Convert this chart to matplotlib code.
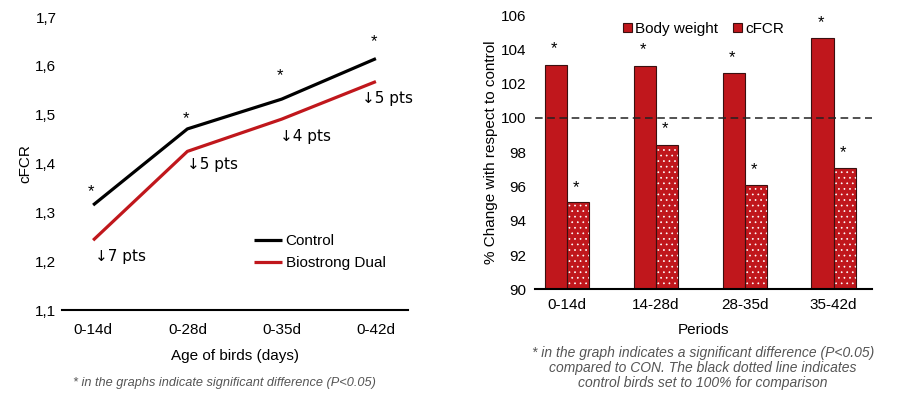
import matplotlib
matplotlib.use('Agg')
import matplotlib.pyplot as plt
from matplotlib.patches import Patch
import numpy as np

plt.rcParams['font.family'] = ['Liberation Sans', 'DejaVu Sans']
plt.rcParams['hatch.linewidth'] = 0.5

# left chart: cumulative FCR
ages = ['0-14d', '0-28d', '0-35d', '0-42d']
control = [1.315, 1.471, 1.532, 1.615]
biostrong = [1.243, 1.425, 1.491, 1.568]
star_left = [1.343, 1.492, 1.581, 1.649]
pts_labels = ['\u21937 pts', '\u21935 pts', '\u21934 pts', '\u21935 pts']
pts_y = [1.210, 1.398, 1.456, 1.533]
pts_x = [0.02, 0.0, -0.02, -0.15]

# right chart: % change vs control
periods = ['0-14d', '14-28d', '28-35d', '35-42d']
body_weight = [103.08, 103.05, 102.6, 104.64]
cfcr = [95.08, 98.44, 96.09, 97.08]
star_bw = [104.05, 104.0, 103.5, 105.55]
star_cfcr = [95.95, 99.35, 97.0, 98.0]

RED = '#c0171c'
EDGE = '#3a1010'
GREY = '#555555'

fig = plt.figure(figsize=(9, 3.98), dpi=100)

# ---- left panel
ax1 = fig.add_axes([0.0689, 0.221, 0.3844, 0.736])
x = np.arange(len(ages))
ax1.plot(x, control, color='black', lw=2.3, label='Control', solid_capstyle='butt')
ax1.plot(x, biostrong, color=RED, lw=2.3, label='Biostrong Dual', solid_capstyle='butt')
for i in range(len(ages)):
    ax1.text(x[i] - 0.02, star_left[i], '*', ha='center', va='center', fontsize=12)
    ax1.text(x[i] + pts_x[i], pts_y[i], pts_labels[i], ha='left', va='center', fontsize=11,
             family=['DejaVu Sans'])
ax1.set_xlim(-0.33, 3.34)
ax1.set_ylim(1.1, 1.7)
ax1.set_yticks([1.1, 1.2, 1.3, 1.4, 1.5, 1.6, 1.7])
ax1.set_yticklabels(['1,1', '1,2', '1,3', '1,4', '1,5', '1,6', '1,7'])
ax1.set_xticks(x)
ax1.set_xticklabels(ages)
ax1.tick_params(axis='x', length=0, labelsize=11, pad=9)
ax1.tick_params(axis='y', length=0, labelsize=11, pad=4)
for s in ['top', 'right', 'left']:
    ax1.spines[s].set_visible(False)
ax1.spines['bottom'].set_linewidth(1.5)
ax1.set_ylabel('cFCR', fontsize=11, labelpad=2)
ax1.set_xlabel('Age of birds (days)', fontsize=11, labelpad=9)
ax1.legend(loc='lower right', bbox_to_anchor=(0.975, 0.09), frameon=False, fontsize=11,
           handlelength=1.85, handletextpad=0.25, labelspacing=0.5)
fig.text(0.249, 0.038, '* in the graphs indicate significant difference (P<0.05)',
         ha='center', va='center', fontsize=9.2, style='italic', color=GREY)

# ---- right panel
ax2 = fig.add_axes([0.5944, 0.273, 0.3744, 0.689])
xp = np.arange(len(periods))
w = 0.25
ax2.bar(xp - w / 2, np.array(body_weight) - 90, w, bottom=90, color=RED,
        edgecolor=EDGE, linewidth=0.8)
ax2.bar(xp + w / 2, np.array(cfcr) - 90, w, bottom=90, color=RED,
        edgecolor='white', linewidth=0, hatch='...')
ax2.bar(xp + w / 2, np.array(cfcr) - 90, w, bottom=90, fill=False,
        edgecolor=EDGE, linewidth=0.8)
for i in range(len(periods)):
    ax2.text(xp[i] - w / 2 - 0.02, star_bw[i], '*', ha='center', va='center', fontsize=12)
    ax2.text(xp[i] + w / 2 - 0.02, star_cfcr[i], '*', ha='center', va='center', fontsize=12)
ax2.axhline(100, color='#222222', lw=1.1, ls=(0, (5, 3)))
ax2.set_xlim(-0.36, 3.43)
ax2.set_ylim(90, 106)
ax2.set_yticks(range(90, 107, 2))
ax2.set_xticks(xp)
ax2.set_xticklabels(periods)
ax2.tick_params(length=0, labelsize=11, pad=6)
for s in ['top', 'right', 'left']:
    ax2.spines[s].set_visible(False)
ax2.spines['bottom'].set_linewidth(1.5)
ax2.set_ylabel('% Change with respect to control', fontsize=11, labelpad=2)
ax2.set_xlabel('Periods', fontsize=11, labelpad=8)

handles = [Patch(facecolor=RED, edgecolor=EDGE, linewidth=0.8),
           Patch(facecolor=RED, edgecolor=EDGE, linewidth=0.8)]
ax2.legend(handles, ['Body weight', 'cFCR'], loc='upper center', bbox_to_anchor=(0.50, 1.025),
           ncol=2, frameon=False, fontsize=11, handlelength=0.6, handleheight=0.6,
           handletextpad=0.2, columnspacing=1.0)
fig.text(0.781, 0.075, '* in the graph indicates a significant difference (P<0.05)\n'
         'compared to CON. The black dotted line indicates\n'
         'control birds set to 100% for comparison',
         ha='center', va='center', fontsize=10, style='italic', color=GREY, linespacing=1.1)

fig.savefig('out.png', dpi=100)
